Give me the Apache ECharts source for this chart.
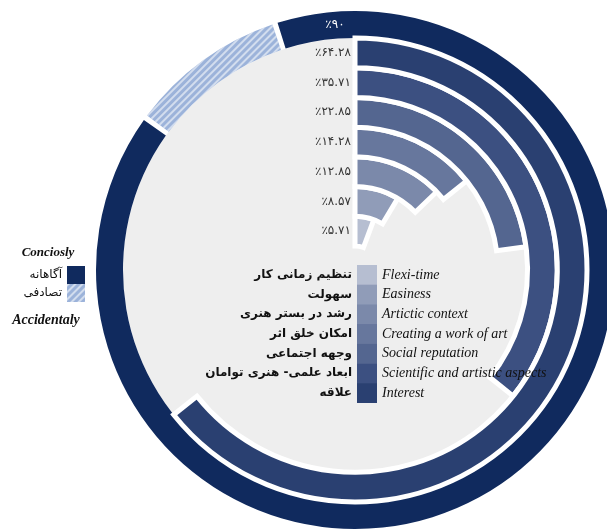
<!DOCTYPE html>
<html>
<head>
<meta charset="utf-8">
<script src="https://cdn.jsdelivr.net/npm/echarts@6/dist/echarts.min.js"></script>
<style>
  html, body { margin: 0; padding: 0; background: #ffffff; }
  #chart { width: 607px; height: 531px; }
</style>
</head>
<body>
<div id="chart"></div>
<script>
// Reasons for choosing the field, innermost bar first
const categories = ['Flexi-time', 'Easiness', 'Artictic context', 'Creating a work of art',
  'Social reputation', 'Scientific and artistic aspects', 'Interest'];
const categoriesFa = ['تنظیم زمانی کار', 'سهولت', 'رشد در بستر هنری', 'امکان خلق اثر',
  'وجهه اجتماعی', 'ابعاد علمی- هنری توامان', 'علاقه'];
const reasonValues = [5.71, 8.57, 12.85, 14.28, 22.85, 35.71, 64.28];
const reasonColors = ['#b6bed1', '#909cb8', '#7b89aa', '#67779d', '#546690', '#3c5081', '#2a4071'];

// Outer ring: how the field was chosen
const choiceNames = ['Conciosly', 'Accidentaly'];
const choiceNamesFa = ['آگاهانه', 'تصادفی'];
const choiceValues = [90, 10];
const choiceColors = ['#102a5e', '#9cb3da'];

const CX = 355, CY = 270;
const faDigits = '۰۱۲۳۴۵۶۷۸۹';
const toFa = v => String(v).replace(/\d/g, d => faDigits[d]);
const pct = v => '٪' + toFa(v);

const barSeries = categories.map((name, i) => ({
  type: 'bar',
  name: name,
  coordinateSystem: 'polar',
  data: categories.map((c, j) => (j === i ? reasonValues[i] : null)),
  barGap: '-100%',
  barCategoryGap: '0%',
  silent: true,
  z: 3,
  itemStyle: { color: reasonColors[i], borderColor: '#ffffff', borderWidth: 5 },
  label: {
    show: true,
    position: 'start',
    distance: 4,
    formatter: p => pct(p.value),
    fontFamily: 'DejaVu Sans',
    fontSize: 12,
    color: '#333333'
  }
}));

const chart = echarts.init(document.getElementById('chart'), null, { renderer: 'canvas' });
chart.setOption({
  animation: false,
  backgroundColor: '#ffffff',
  polar: { center: [CX, CY], radius: [24, 232] },
  angleAxis: { type: 'value', min: 0, max: 100, startAngle: 90, clockwise: true, show: false },
  radiusAxis: { type: 'category', data: categories, show: false },
  legend: [
    {
      data: categories,
      orient: 'vertical',
      left: 357, top: 265,
      padding: 0, itemGap: 0,
      itemWidth: 20, itemHeight: 19.7,
      icon: 'rect', selectedMode: false,
      itemStyle: { borderWidth: 0 },
      textStyle: { fontFamily: 'Liberation Serif', fontStyle: 'italic', fontSize: 14, color: '#111', lineHeight: 19.7 }
    },
    {
      data: categories,
      orient: 'vertical',
      right: 230, top: 265,
      align: 'right',
      padding: 0, itemGap: 0,
      itemWidth: 20, itemHeight: 19.7,
      icon: 'rect', selectedMode: false,
      itemStyle: { borderWidth: 0 },
      formatter: n => categoriesFa[categories.indexOf(n)],
      textStyle: { fontFamily: 'DejaVu Sans', fontWeight: 'bold', fontSize: 12, color: '#111', lineHeight: 19.7 }
    },
    {
      data: choiceNames,
      orient: 'vertical',
      right: 522, top: 266,
      align: 'right',
      padding: 0, itemGap: 0,
      itemWidth: 18, itemHeight: 18,
      icon: 'rect', selectedMode: false,
      itemStyle: { borderWidth: 0 },
      formatter: n => choiceNamesFa[choiceNames.indexOf(n)],
      textStyle: { fontFamily: 'DejaVu Sans', fontSize: 12, color: '#111', lineHeight: 18 }
    }
  ],
  series: [
    {
      // light disk behind the bars
      type: 'pie', center: [CX, CY], radius: [0, 232], silent: true, z: 0,
      label: { show: false }, labelLine: { show: false },
      data: [{ name: 'disk', value: 1, itemStyle: { color: '#eeeeee' } }]
    },
    {
      type: 'pie', center: [CX, CY], radius: [232, 259],
      startAngle: 108, clockwise: true, padAngle: 1.2,
      silent: true, z: 1,
      label: { show: false }, labelLine: { show: false },
      data: choiceNames.map((n, i) => ({
        name: n,
        value: choiceValues[i],
        itemStyle: i === 1
          ? { color: choiceColors[i], decal: { symbol: 'rect', color: 'rgba(255,255,255,0.55)', dashArrayX: [1, 0], dashArrayY: [1.5, 2.5], rotation: -Math.PI / 4 } }
          : { color: choiceColors[i] }
      }))
    },
    ...barSeries
  ],
  graphic: [
    {
      type: 'text', x: 335, y: 25, z: 10,
      style: { text: pct(choiceValues[0]), fill: '#ffffff', font: '12px "DejaVu Sans"', align: 'center', verticalAlign: 'middle' }
    },
    {
      type: 'text', x: 48, y: 253, z: 10,
      style: { text: 'Conciosly', fill: '#111', font: 'italic bold 13px "Liberation Serif"', align: 'center', verticalAlign: 'middle' }
    },
    {
      type: 'text', x: 46, y: 320, z: 10,
      style: { text: 'Accidentaly', fill: '#111', font: 'italic bold 14px "Liberation Serif"', align: 'center', verticalAlign: 'middle' }
    }
  ]
});
</script>
</body>
</html>
